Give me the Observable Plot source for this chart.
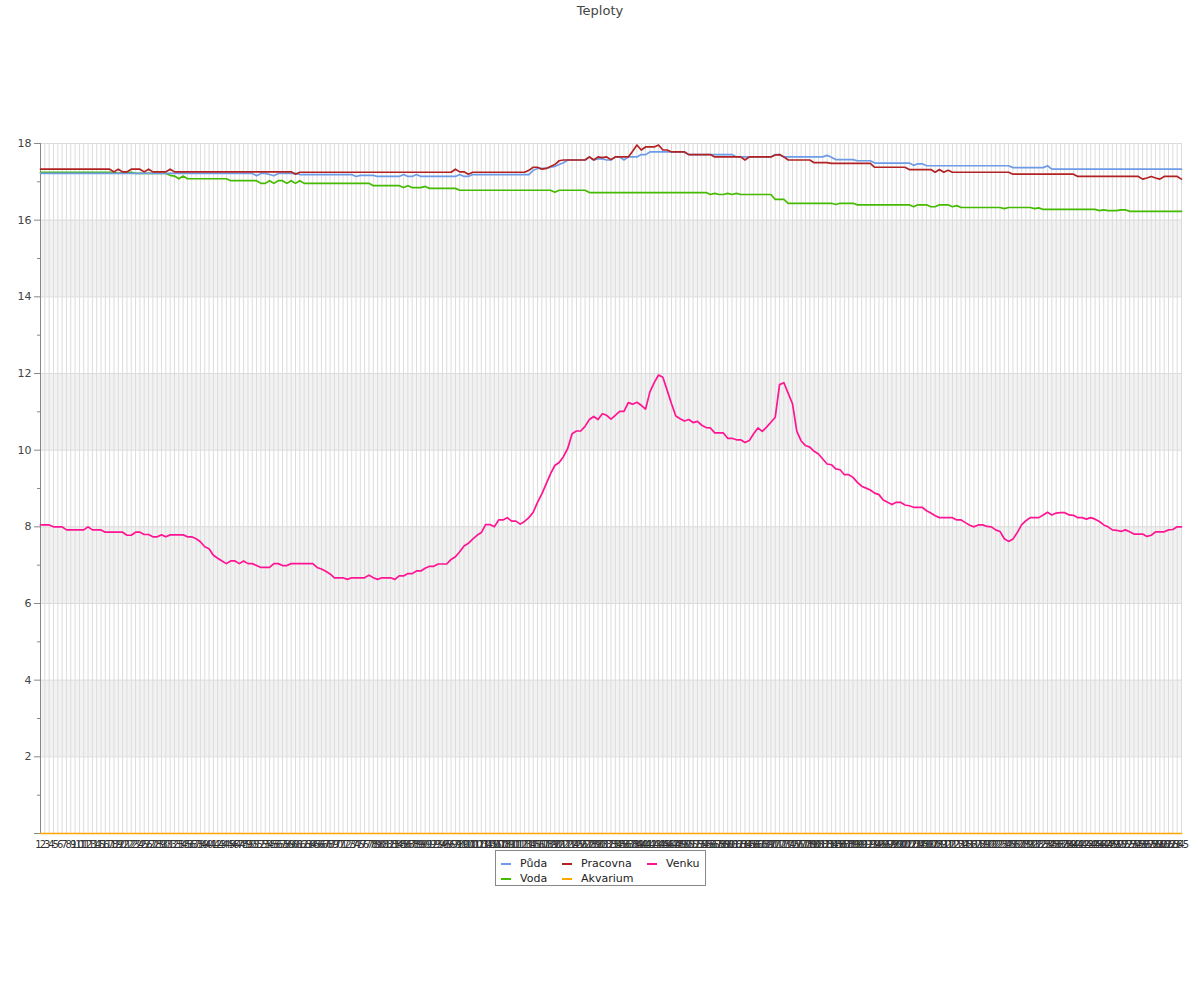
<!DOCTYPE html>
<html>
<head>
<meta charset="utf-8">
<script src="https://cdn.jsdelivr.net/npm/d3@7"></script>
<script src="https://cdn.jsdelivr.net/npm/@observablehq/plot@0.6"></script>
<style>
  html, body { margin: 0; padding: 0; background: #fff; }
  #wrap { position: relative; width: 1200px; height: 1000px; font-family: "DejaVu Sans", sans-serif; }
  #title { position: absolute; top: 2.5px; left: 0; width: 1200px; text-align: center; font-size: 13px; line-height: 16px; color: #444; }
  #chart { position: absolute; top: 0; left: 0; }
  #legend { position: absolute; left: 495px; top: 850px; width: 211px; height: 36px; border: 1px solid #888; box-sizing: border-box; background: #fff; }
  .item { position: absolute; height: 15px; line-height: 15px; font-size: 11px; color: #222; white-space: nowrap; }
  .sw { position: absolute; left: 0; top: 6.5px; width: 10px; height: 2px; }
  .lb { position: absolute; left: 19px; top: 0; }
  #err { position: absolute; left: 10px; top: 950px; color: red; font-size: 12px; }
</style>
</head>
<body>
<div id="wrap">
  <div id="title">Teploty</div>
  <div id="chart"></div>
  <div id="legend"></div>
  <div id="err"></div>
</div>
<script>
// ---- DATA ----
const labels = d3.range(1, 266); // category labels 1..265

const seriesNames = ["Půda", "Pracovna", "Venku", "Voda", "Akvarium"];
const seriesColors = ["#6f9ce8", "#b22222", "#ff1493", "#44bb00", "#ffa500"];

const puda = [
17.22,17.22,17.22,17.22,17.22,17.22,17.22,17.22,17.22,17.22,
17.22,17.22,17.22,17.22,17.22,17.22,17.22,17.22,17.22,17.22,
17.22,17.22,17.22,17.22,17.22,17.22,17.22,17.22,17.22,17.22,
17.22,17.22,17.22,17.22,17.22,17.22,17.22,17.22,17.22,17.22,
17.22,17.22,17.22,17.22,17.22,17.22,17.22,17.22,17.22,17.22,
17.16,17.22,17.22,17.19,17.16,17.22,17.22,17.22,17.22,17.22,
17.19,17.19,17.19,17.19,17.19,17.19,17.19,17.19,17.19,17.19,
17.19,17.19,17.19,17.14,17.17,17.17,17.17,17.17,17.14,17.14,
17.14,17.14,17.14,17.14,17.19,17.14,17.14,17.19,17.14,17.14,
17.14,17.14,17.14,17.14,17.14,17.14,17.14,17.19,17.14,17.14,
17.19,17.19,17.19,17.19,17.19,17.19,17.19,17.19,17.19,17.19,
17.19,17.19,17.19,17.19,17.3,17.35,17.35,17.35,17.38,17.4,
17.45,17.5,17.57,17.57,17.57,17.57,17.57,17.65,17.57,17.6,
17.6,17.57,17.57,17.65,17.65,17.57,17.65,17.65,17.65,17.71,
17.71,17.78,17.78,17.78,17.78,17.78,17.78,17.78,17.78,17.78,
17.71,17.71,17.71,17.71,17.71,17.71,17.71,17.71,17.71,17.71,
17.71,17.65,17.65,17.65,17.65,17.65,17.65,17.65,17.65,17.65,
17.71,17.71,17.65,17.65,17.65,17.65,17.65,17.65,17.65,17.65,
17.65,17.65,17.69,17.64,17.58,17.58,17.58,17.58,17.58,17.55,
17.55,17.55,17.55,17.49,17.49,17.49,17.49,17.49,17.49,17.49,
17.49,17.49,17.43,17.47,17.47,17.42,17.42,17.42,17.42,17.42,
17.42,17.42,17.42,17.42,17.42,17.42,17.42,17.42,17.42,17.42,
17.42,17.42,17.42,17.42,17.42,17.37,17.37,17.37,17.37,17.37,
17.37,17.37,17.37,17.42,17.33,17.33,17.33,17.33,17.33,17.33,
17.33,17.33,17.33,17.33,17.33,17.33,17.33,17.33,17.33,17.33,
17.33,17.33,17.33,17.33,17.33,17.33,17.33,17.33,17.33,17.33,
17.33,17.33,17.33,17.33,17.33
];

const pracovna = [
17.33,17.33,17.33,17.33,17.33,17.33,17.33,17.33,17.33,17.33,
17.33,17.33,17.33,17.33,17.33,17.33,17.33,17.26,17.33,17.26,
17.26,17.33,17.33,17.33,17.26,17.33,17.26,17.26,17.26,17.26,
17.33,17.26,17.26,17.26,17.26,17.26,17.26,17.26,17.26,17.26,
17.26,17.26,17.26,17.26,17.26,17.26,17.26,17.26,17.26,17.26,
17.26,17.26,17.26,17.26,17.26,17.26,17.26,17.26,17.26,17.2,
17.25,17.25,17.25,17.25,17.25,17.25,17.25,17.25,17.25,17.25,
17.25,17.25,17.25,17.25,17.25,17.25,17.25,17.25,17.25,17.25,
17.25,17.25,17.25,17.25,17.25,17.25,17.25,17.25,17.25,17.25,
17.25,17.25,17.25,17.25,17.25,17.25,17.33,17.26,17.26,17.2,
17.25,17.25,17.25,17.25,17.25,17.25,17.25,17.25,17.25,17.25,
17.25,17.25,17.25,17.3,17.38,17.38,17.33,17.35,17.4,17.45,
17.55,17.57,17.57,17.57,17.57,17.57,17.57,17.65,17.57,17.65,
17.63,17.65,17.58,17.65,17.65,17.65,17.65,17.8,17.96,17.83,
17.91,17.91,17.91,17.96,17.83,17.83,17.78,17.78,17.78,17.78,
17.71,17.71,17.71,17.71,17.71,17.71,17.65,17.65,17.65,17.65,
17.65,17.65,17.65,17.57,17.65,17.65,17.65,17.65,17.65,17.65,
17.7,17.71,17.65,17.57,17.57,17.57,17.57,17.57,17.57,17.5,
17.5,17.5,17.5,17.48,17.48,17.48,17.48,17.48,17.48,17.48,
17.48,17.48,17.48,17.38,17.38,17.38,17.38,17.38,17.38,17.38,
17.38,17.32,17.32,17.32,17.32,17.32,17.32,17.25,17.32,17.25,
17.3,17.25,17.25,17.25,17.25,17.25,17.25,17.25,17.25,17.25,
17.25,17.25,17.25,17.25,17.25,17.2,17.2,17.2,17.2,17.2,
17.2,17.2,17.2,17.2,17.2,17.2,17.2,17.2,17.2,17.2,
17.14,17.14,17.14,17.14,17.14,17.14,17.14,17.14,17.14,17.14,
17.14,17.14,17.14,17.14,17.14,17.07,17.1,17.14,17.1,17.07,
17.14,17.14,17.14,17.14,17.07
];

const venku = [
8.05,8.05,8.05,8.0,8.0,8.0,7.92,7.92,7.92,7.92,
7.92,8.0,7.92,7.92,7.92,7.86,7.86,7.86,7.86,7.86,
7.78,7.78,7.86,7.86,7.8,7.8,7.74,7.74,7.79,7.74,
7.79,7.79,7.79,7.79,7.74,7.74,7.69,7.61,7.48,7.43,
7.26,7.18,7.11,7.04,7.11,7.11,7.04,7.11,7.04,7.04,
6.99,6.94,6.94,6.94,7.04,7.04,6.99,6.99,7.04,7.04,
7.04,7.04,7.04,7.04,6.94,6.9,6.84,6.77,6.67,6.67,
6.67,6.63,6.67,6.67,6.67,6.67,6.74,6.67,6.63,6.67,
6.67,6.67,6.63,6.72,6.72,6.78,6.78,6.85,6.85,6.92,
6.97,6.97,7.03,7.03,7.03,7.15,7.22,7.35,7.5,7.57,
7.68,7.78,7.85,8.06,8.06,8.0,8.18,8.18,8.24,8.15,
8.15,8.07,8.14,8.24,8.38,8.64,8.86,9.12,9.38,9.6,
9.68,9.83,10.05,10.43,10.5,10.5,10.62,10.8,10.88,10.8,
10.95,10.91,10.81,10.91,11.01,11.01,11.24,11.2,11.25,11.17,
11.07,11.52,11.76,11.96,11.9,11.56,11.21,10.89,10.82,10.76,
10.8,10.72,10.75,10.65,10.59,10.58,10.45,10.45,10.45,10.31,
10.31,10.27,10.27,10.2,10.25,10.43,10.58,10.49,10.6,10.73,
10.86,11.71,11.76,11.48,11.21,10.49,10.24,10.12,10.08,9.97,
9.9,9.77,9.64,9.62,9.51,9.49,9.36,9.36,9.29,9.16,
9.06,9.01,8.96,8.88,8.84,8.7,8.64,8.58,8.64,8.64,
8.57,8.55,8.51,8.51,8.51,8.42,8.36,8.29,8.24,8.24,
8.24,8.24,8.18,8.18,8.11,8.04,8.0,8.05,8.05,8.01,
8.0,7.92,7.88,7.69,7.62,7.68,7.85,8.05,8.16,8.24,
8.24,8.24,8.31,8.38,8.31,8.36,8.37,8.37,8.31,8.3,
8.24,8.24,8.2,8.24,8.2,8.14,8.05,8.0,7.92,7.91,
7.88,7.92,7.87,7.81,7.81,7.81,7.75,7.78,7.87,7.87,
7.87,7.92,7.93,8.0,8.0
];

const voda = [
17.25,17.25,17.25,17.25,17.25,17.25,17.25,17.25,17.25,17.25,
17.25,17.25,17.25,17.25,17.25,17.25,17.25,17.25,17.22,17.25,
17.25,17.25,17.22,17.22,17.22,17.22,17.22,17.22,17.22,17.22,
17.17,17.15,17.08,17.15,17.08,17.08,17.08,17.08,17.08,17.08,
17.08,17.08,17.08,17.08,17.03,17.03,17.03,17.03,17.03,17.03,
17.03,16.96,16.96,17.03,16.96,17.03,17.03,16.96,17.03,16.96,
17.03,16.96,16.96,16.96,16.96,16.96,16.96,16.96,16.96,16.96,
16.96,16.96,16.96,16.96,16.96,16.96,16.96,16.9,16.9,16.9,
16.9,16.9,16.9,16.9,16.85,16.9,16.85,16.85,16.85,16.88,
16.83,16.83,16.83,16.83,16.83,16.83,16.83,16.78,16.78,16.78,
16.78,16.78,16.78,16.78,16.78,16.78,16.78,16.78,16.78,16.78,
16.78,16.78,16.78,16.78,16.78,16.78,16.78,16.78,16.78,16.73,
16.78,16.78,16.78,16.78,16.78,16.78,16.78,16.72,16.72,16.72,
16.72,16.72,16.72,16.72,16.72,16.72,16.72,16.72,16.72,16.72,
16.72,16.72,16.72,16.72,16.72,16.72,16.72,16.72,16.72,16.72,
16.72,16.72,16.72,16.72,16.72,16.67,16.7,16.67,16.67,16.7,
16.67,16.7,16.67,16.67,16.67,16.67,16.67,16.67,16.67,16.67,
16.54,16.54,16.54,16.44,16.44,16.44,16.44,16.44,16.44,16.44,
16.44,16.44,16.44,16.44,16.41,16.44,16.44,16.44,16.44,16.4,
16.4,16.4,16.4,16.4,16.4,16.4,16.4,16.4,16.4,16.4,
16.4,16.4,16.35,16.4,16.4,16.4,16.35,16.35,16.4,16.4,
16.4,16.35,16.38,16.33,16.33,16.33,16.33,16.33,16.33,16.33,
16.33,16.33,16.33,16.3,16.33,16.33,16.33,16.33,16.33,16.33,
16.3,16.32,16.28,16.28,16.28,16.28,16.28,16.28,16.28,16.28,
16.28,16.28,16.28,16.28,16.28,16.25,16.27,16.25,16.25,16.25,
16.27,16.27,16.23,16.23,16.23,16.23,16.23,16.23,16.23,16.23,
16.23,16.23,16.23,16.23,16.23
];

const akvarium = [
0,0,0,0,0,0,0,0,0,0, 0,0,0,0,0,0,0,0,0,0, 0,0,0,0,0,0,0,0,0,0,
0,0,0,0,0,0,0,0,0,0, 0,0,0,0,0,0,0,0,0,0, 0,0,0,0,0,0,0,0,0,0,
0,0,0,0,0,0,0,0,0,0, 0,0,0,0,0,0,0,0,0,0, 0,0,0,0,0,0,0,0,0,0,
0,0,0,0,0,0,0,0,0,0, 0,0,0,0,0,0,0,0,0,0, 0,0,0,0,0,0,0,0,0,0,
0,0,0,0,0,0,0,0,0,0, 0,0,0,0,0,0,0,0,0,0, 0,0,0,0,0,0,0,0,0,0,
0,0,0,0,0,0,0,0,0,0, 0,0,0,0,0,0,0,0,0,0, 0,0,0,0,0,0,0,0,0,0,
0,0,0,0,0,0,0,0,0,0, 0,0,0,0,0,0,0,0,0,0, 0,0,0,0,0,0,0,0,0,0,
0,0,0,0,0,0,0,0,0,0, 0,0,0,0,0,0,0,0,0,0, 0,0,0,0,0,0,0,0,0,0,
0,0,0,0,0,0,0,0,0,0, 0,0,0,0,0,0,0,0,0,0, 0,0,0,0,0
];

const yLabelTicks = [2, 4, 6, 8, 10, 12, 14, 16, 18];
const yMinorTicks = [1, 3, 5, 7, 9, 11, 13, 15, 17];
const bandRanges = [[2, 4], [6, 8], [10, 12], [14, 16]];

// ---- BUILD ----
const valuesByName = {"Půda": puda, "Pracovna": pracovna, "Venku": venku, "Voda": voda, "Akvarium": akvarium};
const errs = [];
for (const [n, arr] of Object.entries(valuesByName)) if (arr.length !== labels.length) errs.push(n + ": " + arr.length);
if (errs.length) document.getElementById("err").textContent = "Length mismatch: " + errs.join(", ");

const drawOrder = ["Akvarium", "Voda", "Půda", "Pracovna", "Venku"];
const table = drawOrder.flatMap(name => valuesByName[name].map((v, i) => ({label: labels[i], series: name, value: v})));
const bands = bandRanges.map(([a, b]) => ({y1: a, y2: b}));

const chart = Plot.plot({
  width: 1200,
  height: 860,
  marginTop: 143,
  marginBottom: 27,
  marginLeft: 40,
  marginRight: 19,
  style: {fontFamily: "DejaVu Sans, sans-serif", color: "#333", background: "transparent"},
  x: {type: "point", domain: labels, padding: 0, axis: null},
  y: {domain: [0, 18], axis: null},
  color: {domain: seriesNames, range: seriesColors},
  marks: [
    Plot.rect(bands, {y1: "y1", y2: "y2", fill: "#f2f2f2"}),
    Plot.ruleX(labels, {stroke: "#dcdcdc", strokeWidth: 1}),
    Plot.ruleY(yLabelTicks, {stroke: "#dcdcdc", strokeWidth: 1}),
    Plot.axisY({ticks: [0, ...yLabelTicks], tickSize: 6, tickPadding: 3, tickFormat: d => d === 0 ? "" : String(d), fontSize: 11, stroke: "#888", color: "#444"}),
    Plot.axisY({ticks: yMinorTicks, tickSize: 3, tickFormat: () => "", stroke: "#888"}),
    Plot.axisX({ticks: labels, tickSize: 0, tickPadding: 7, fontSize: 10, dx: -2, color: "#333"}),
    Plot.ruleX([labels[0]], {stroke: "#888", strokeWidth: 1}),
    Plot.ruleY([0], {stroke: "#888", strokeWidth: 1}),
    Plot.line(table, {x: "label", y: "value", z: "series", stroke: "series", strokeWidth: 1.7, strokeLinejoin: "round"})
  ]
});
document.getElementById("chart").appendChild(chart);

// ---- LEGEND ----
const legend = document.getElementById("legend");
const colLeft = [5, 66, 151];
const rowTop = [5, 20];
seriesNames.forEach((name, k) => {
  const col = k % 3, row = Math.floor(k / 3);
  const item = document.createElement("div");
  item.className = "item";
  item.style.left = colLeft[col] + "px";
  item.style.top = rowTop[row] + "px";
  const sw = document.createElement("div");
  sw.className = "sw";
  sw.style.background = seriesColors[k];
  const lb = document.createElement("span");
  lb.className = "lb";
  lb.textContent = name;
  item.appendChild(sw);
  item.appendChild(lb);
  legend.appendChild(item);
});
</script>
</body>
</html>
